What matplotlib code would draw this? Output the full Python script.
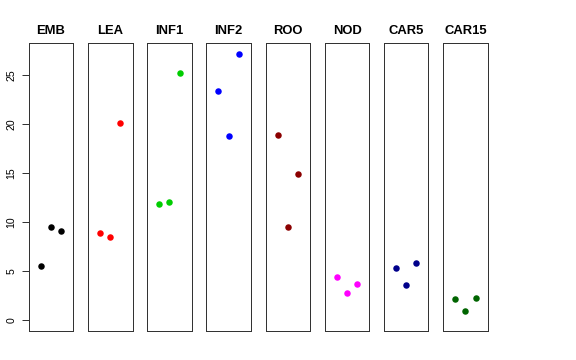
import matplotlib
matplotlib.use("Agg")
import matplotlib.pyplot as plt

plt.rcParams['font.family'] = ['Liberation Sans', 'DejaVu Sans']

tissues = ['EMB', 'LEA', 'INF1', 'INF2', 'ROO', 'NOD', 'CAR5', 'CAR15']
colors = ['black', 'red', '#00CD00', 'blue', '#8B0000', 'magenta', '#00008B', '#006400']
reps = [1, 2, 3]
emb = [5.5, 9.5, 9.1]
lea = [8.9, 8.5, 20.1]
inf1 = [11.9, 12.1, 25.2]
inf2 = [23.4, 18.8, 27.2]
roo = [18.9, 9.5, 14.9]
nod = [4.4, 2.8, 3.7]
car5 = [5.3, 3.6, 5.9]
car15 = [2.2, 1.0, 2.3]
values = [emb, lea, inf1, inf2, roo, nod, car5, car15]

W, H = 576, 360
fig = plt.figure(figsize=(W / 72, H / 72), dpi=72)

lefts = [28.7, 87.9, 147.1, 206.3, 265.5, 324.7, 383.9, 443.1]
pw = 44.6
top, bottom = 42.7, 331.0

for i, (name, vals, col) in enumerate(zip(tissues, values, colors)):
    ax = fig.add_axes([lefts[i] / W, (H - bottom) / H, pw / W, (bottom - top) / H])
    ax.scatter(reps, vals, s=42, color=col, zorder=3, linewidths=0)
    ax.set_xlim(-0.2, 4.2)
    ax.set_ylim(-1.09, 28.33)
    ax.set_xticks([])
    ax.set_title(name, fontsize=13, fontweight='bold', pad=9)
    for sp in ax.spines.values():
        sp.set_linewidth(1.0)
        sp.set_color('#333333')
    if i == 0:
        ax.set_yticks([0, 5, 10, 15, 20, 25])
        ax.tick_params(axis='y', length=7, width=0.8, labelsize=10.5, pad=5)
        for lab in ax.get_yticklabels():
            lab.set_rotation(90)
            lab.set_va('center')
    else:
        ax.set_yticks([])

fig.savefig('out.png', dpi=72)
